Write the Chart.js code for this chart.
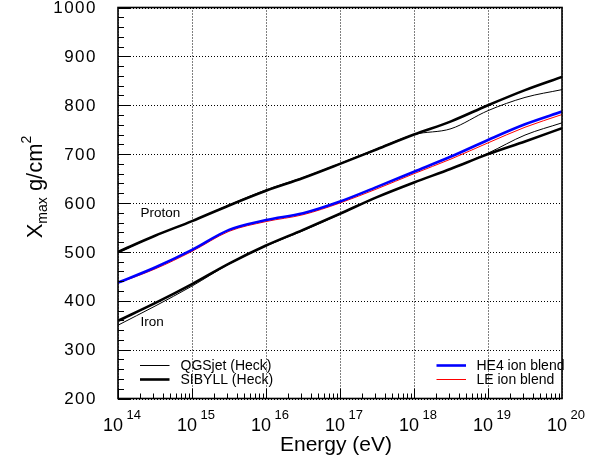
<!DOCTYPE html>
<html><head><meta charset="utf-8">
<script src="https://cdn.jsdelivr.net/npm/chart.js@4/dist/chart.umd.min.js"></script>
<style>html,body{margin:0;padding:0;background:#fff}#wrap{width:608px;height:457px;position:relative}</style>
</head><body><div id="wrap"><canvas id="c" width="608" height="457"></canvas></div>
<script>
// ---- data (log10 of energy in eV -> energy) ----
const logEnergy = [14, 14.5, 15, 15.5, 16, 16.5, 17, 17.5, 18, 18.5, 19, 19.5, 20];
const protonQGSjet = [498, 533, 563, 596, 627, 652, 681, 711, 740, 752, 789, 816, 832];
const protonSIBYLL = [500, 533, 563, 595, 625, 651, 680, 710, 740, 767, 800, 831, 858];
const ironQGSjet   = [350, 389, 430, 475, 512, 543, 577, 612, 642, 670, 702, 739, 764];
const ironSIBYLL   = [359, 395, 434, 476, 513, 545, 578, 612, 642, 670, 700, 726, 753];
const he4Blend     = [437, 468, 504, 545, 565, 579, 603, 633, 664, 695, 729, 761, 787];
const leBlend      = [436, 465, 501, 542, 562, 576, 600, 629, 660, 690, 723, 755, 781];
const xTickExponents = ['14', '15', '16', '17', '18', '19', '20'];
const yTickLabels = ['200', '300', '400', '500', '600', '700', '800', '900', '1000'];
const legendLeft = ['QGSjet (Heck)', 'SIBYLL (Heck)'];
const legendRight = ['HE4 ion blend', 'LE ion blend'];
const curveLabels = ['Proton', 'Iron'];

const energies = logEnergy.map(l => Math.pow(10, l));
const pts = arr => arr.map((v, i) => ({x: energies[i], y: v}));
const FONT = '"Liberation Sans", Arial, Helvetica, sans-serif';

function mk(data, color, w) {
  return {data: pts(data), borderColor: color, backgroundColor: color, borderWidth: w,
    pointRadius: 0, fill: false, cubicInterpolationMode: 'monotone', tension: 0.4};
}

const gridPlugin = {
  id: 'gridPlugin',
  beforeDatasetsDraw(chart) {
    const {ctx, chartArea: a, scales: {x, y}} = chart;
    ctx.save();
    ctx.strokeStyle = '#000';
    ctx.lineWidth = 1;
    ctx.setLineDash([1, 2]);
    xTickExponents.forEach(e => {
      const px = Math.round(x.getPixelForValue(Math.pow(10, +e))) + 0.5;
      ctx.beginPath(); ctx.moveTo(px, a.top); ctx.lineTo(px, a.bottom); ctx.stroke();
    });
    yTickLabels.forEach(t => {
      const py = Math.round(y.getPixelForValue(+t)) + 0.5;
      ctx.beginPath(); ctx.moveTo(a.left, py); ctx.lineTo(a.right, py); ctx.stroke();
    });
    ctx.restore();
  }
};

const overlay = {
  id: 'overlay',
  afterDraw(chart) {
    const {ctx, chartArea: a, scales: {x, y}} = chart;
    ctx.save();
    ctx.setLineDash([]);
    ctx.strokeStyle = '#000';
    const line = (x1, y1, x2, y2, w) => {ctx.lineWidth = w; ctx.beginPath(); ctx.moveTo(x1, y1); ctx.lineTo(x2, y2); ctx.stroke();};
    // frame
    ctx.lineWidth = 1.6;
    ctx.strokeRect(a.left, a.top, a.right - a.left, a.bottom - a.top);
    // y ticks
    for (let v = 200; v <= 1000; v += 20) {
      const py = Math.round(y.getPixelForValue(v)) + 0.5;
      line(a.left, py, a.left + (v % 100 === 0 ? 12 : 6), py, 1);
    }
    // x ticks
    xTickExponents.forEach((e, i) => {
      if (i === xTickExponents.length - 1) return;
      for (let m = 1; m <= 9; m++) {
        const px = Math.round(x.getPixelForValue(m * Math.pow(10, +e))) + 0.5;
        line(px, a.bottom, px, a.bottom - (m === 1 ? 10 : 5), 1);
      }
    });
    // y tick labels
    ctx.fillStyle = '#000';
    ctx.font = '17px ' + FONT;
    ctx.textAlign = 'right'; ctx.textBaseline = 'middle';
    try { ctx.letterSpacing = '1.5px'; } catch (e) {}
    yTickLabels.forEach(t => {
      ctx.fillText(t, a.left - 21, y.getPixelForValue(+t) + 1);
    });
    try { ctx.letterSpacing = '0px'; } catch (e) {}
    // x tick labels 10^n
    ctx.textAlign = 'left'; ctx.textBaseline = 'alphabetic';
    xTickExponents.forEach(e => {
      const px = x.getPixelForValue(Math.pow(10, +e));
      ctx.font = '18px ' + FONT;
      const w10 = ctx.measureText('10').width;
      const sx = px - 15;
      ctx.fillText('10', sx, a.bottom + 32.5);
      ctx.font = '13px ' + FONT;
      ctx.fillText(e, sx + w10 + 3.5, a.bottom + 20.5);
    });
    // axis titles
    ctx.font = '21px ' + FONT;
    ctx.textAlign = 'center';
    ctx.fillText('Energy (eV)', (a.left + a.right) / 2 - 4, a.bottom + 52);
    // y title rotated
    ctx.save();
    ctx.translate(42, 187);
    ctx.rotate(-Math.PI / 2);
    ctx.textAlign = 'left';
    const big = '22px ' + FONT, sub = '14px ' + FONT;
    ctx.font = big; const wX = ctx.measureText('X').width;
    ctx.font = sub; const wM = ctx.measureText('max').width;
    ctx.font = big; const wG = ctx.measureText(' g/cm').width;
    ctx.font = sub; const w2 = ctx.measureText('2').width;
    let cx = -(wX + wM + wG + w2) / 2;
    ctx.font = big; ctx.fillText('X', cx, 0); cx += wX;
    ctx.font = sub; ctx.fillText('max', cx, 5); cx += wM;
    ctx.font = big; ctx.fillText(' g/cm', cx, 0); cx += wG;
    ctx.font = sub; ctx.fillText('2', cx, -11);
    ctx.restore();
    // curve labels
    ctx.font = '13.5px ' + FONT;
    ctx.textAlign = 'left'; ctx.textBaseline = 'middle';
    ctx.fillText(curveLabels[0], a.left + 22.5, 213.5);
    ctx.fillText(curveLabels[1], a.left + 22.5, 322);
    // legends
    const ds = chart.data.datasets;
    ctx.font = '14px ' + FONT;
    const rows = [365.5, 379.5];
    [[legendLeft, [ds[0], ds[1]], a.left + 22, a.left + 62.5], [legendRight, [ds[4], ds[5]], a.left + 318.5, a.left + 358.5]].forEach(([labels, sets, lx, tx]) => {
      labels.forEach((t, i) => {
        ctx.strokeStyle = sets[i].borderColor;
        line(lx, rows[i], lx + 29.5, rows[i], sets[i].borderWidth);
        ctx.fillStyle = '#000';
        ctx.fillText(t, tx, rows[i] + 0.5);
      });
    });
    ctx.restore();
  }
};

new Chart(document.getElementById('c'), {
  type: 'line',
  data: {
    datasets: [
      mk(protonQGSjet, '#000000', 1),
      mk(protonSIBYLL, '#000000', 2.6),
      mk(ironQGSjet, '#000000', 1),
      mk(ironSIBYLL, '#000000', 2.6),
      mk(he4Blend, '#0000ff', 2.6),
      mk(leBlend, '#ff0000', 1)
    ]
  },
  options: {
    responsive: false, animation: false, events: [],
    layout: {padding: {left: 118, right: 46, top: 7.5, bottom: 58.5}},
    plugins: {legend: {display: false}, tooltip: {enabled: false}},
    scales: {
      x: {
        type: 'logarithmic', min: 1e14, max: 1e20,
        afterBuildTicks: s => { s.ticks = xTickExponents.map(e => ({value: Math.pow(10, +e)})); },
        ticks: {display: false},
        grid: {display: false, drawTicks: false, tickLength: 0},
        border: {display: false}
      },
      y: {
        type: 'linear', min: 200, max: 1000,
        afterBuildTicks: s => { s.ticks = yTickLabels.map(t => ({value: +t})); },
        ticks: {display: false},
        grid: {display: false, drawTicks: false, tickLength: 0},
        border: {display: false}
      }
    }
  },
  plugins: [gridPlugin, overlay]
});
</script></body></html>
